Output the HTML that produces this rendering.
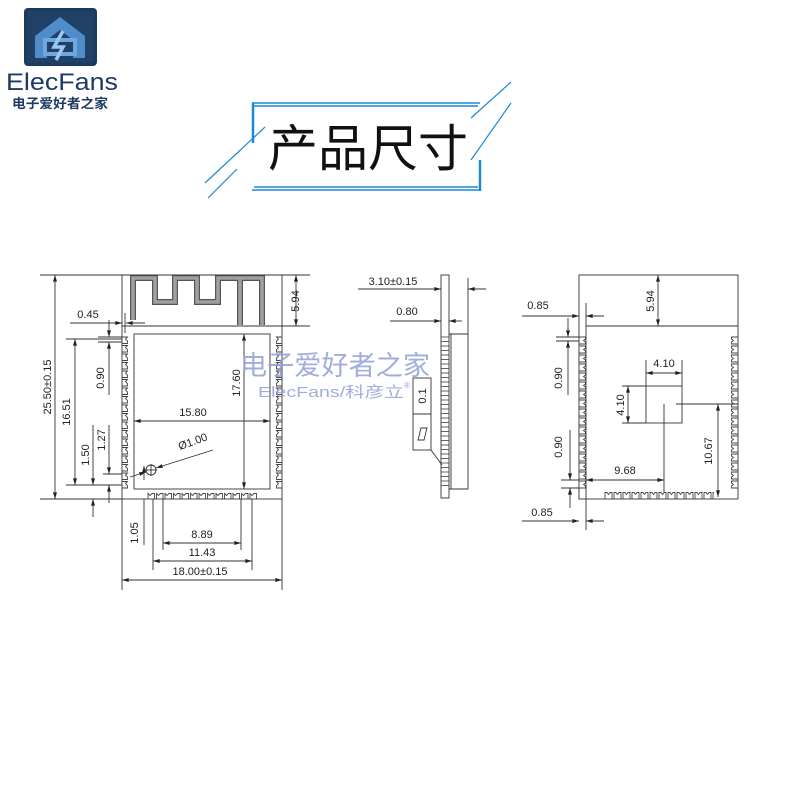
<!DOCTYPE html>
<html><head><meta charset="utf-8"><style>
html,body{margin:0;padding:0;background:#fff;width:800px;height:800px;overflow:hidden}
svg text{font-family:"Liberation Sans","Noto Sans CJK SC",sans-serif}
</style></head><body>
<svg width="800" height="800" viewBox="0 0 800 800" xmlns="http://www.w3.org/2000/svg">
<defs>
<pattern id="castL" x="122" y="336" width="7" height="8.5" patternUnits="userSpaceOnUse">
<path d="M0.5,1 h5 l-2,2 l2,2 l0,2.5 h-5" fill="none" stroke="#444" stroke-width="0.9"/>
</pattern>
<pattern id="castR" x="275" y="336" width="7" height="8.5" patternUnits="userSpaceOnUse">
<path d="M6.5,1 h-5 l2,2 l-2,2 l0,2.5 h5" fill="none" stroke="#444" stroke-width="0.9"/>
</pattern>
<pattern id="castB" x="147" y="492" width="8.5" height="7" patternUnits="userSpaceOnUse">
<path d="M1,6.5 v-5 l2,2 l2,-2 h2.5 v5" fill="none" stroke="#444" stroke-width="0.9"/>
</pattern>
<pattern id="castL2" x="579" y="336" width="7" height="9" patternUnits="userSpaceOnUse">
<path d="M0.5,1 h6 v2 l-2,1.5 l2,1.5 v2 h-6" fill="none" stroke="#444" stroke-width="0.9"/>
</pattern>
<pattern id="castR2" x="731" y="336" width="7" height="9" patternUnits="userSpaceOnUse">
<path d="M6.5,1 h-6 v2 l2,1.5 l-2,1.5 v2 h6" fill="none" stroke="#444" stroke-width="0.9"/>
</pattern>
<pattern id="castB2" x="604" y="491" width="9" height="8" patternUnits="userSpaceOnUse">
<path d="M1,7.5 v-6 h2 l1.5,2 l1.5,-2 h2 v6" fill="none" stroke="#444" stroke-width="0.9"/>
</pattern>
<marker id="a" viewBox="0 0 10 6" refX="10" refY="3" markerWidth="7" markerHeight="4" orient="auto-start-reverse" markerUnits="userSpaceOnUse">
<path d="M0,0 L10,3 L0,6z" fill="#222"/></marker>
</defs>

<!-- Logo -->
<rect x="24" y="8" width="73" height="58" rx="4" fill="#1d3a5c"/>
<rect x="27" y="11" width="67" height="52" rx="3" fill="#22466e" opacity="0.6"/>
<path d="M35,58 V36 L60,17 L85,36 V58 H73 V40 L60,30 L47,40 V58z" fill="#4f8cc9"/>
<rect x="45" y="40" width="30" height="14" fill="none" stroke="#6fa8dc" stroke-width="4"/>
<path d="M63,31 L54,47 H63 L56,60" fill="none" stroke="#9cc7ee" stroke-width="3.5"/>
<text x="6" y="90" font-size="24" fill="#1e3b66" textLength="112" lengthAdjust="spacingAndGlyphs">ElecFans</text>
<text x="12" y="108" font-size="13" font-weight="bold" fill="#1e3b66" textLength="96" lengthAdjust="spacingAndGlyphs">电子爱好者之家</text>

<!-- Title -->
<g stroke="#1a8ad4" fill="none">
<path d="M252,103 H480 M254,106 H478" stroke-width="1.6"/>
<path d="M253,103 V143" stroke-width="2.5"/>
<path d="M252,190 H481 M254,187 H478" stroke-width="1.6"/>
<path d="M480,160 V191" stroke-width="2.5"/>
<path d="M205,183 L265,127 M208,198 L237,169 M471,118 L511,82 M471,160 L511,103" stroke-width="1.2"/>
</g>
<text x="368" y="166" font-size="50" text-anchor="middle" fill="#111" font-family="Noto Sans CJK SC,sans-serif">产品尺寸</text>

<g stroke="#333" stroke-width="0.9" fill="none">
<!-- LEFT VIEW -->
<rect x="122" y="275" width="160" height="224"/>
<line x1="122" y1="326" x2="282" y2="326"/>
<path d="M133,320 V278 H155 V302 H175 V278 H197 V302 H218 V278 H262 V325 M240,278 V325" stroke="#555" stroke-width="6" stroke-linejoin="miter"/>
<path d="M133,320 V278 H155 V302 H175 V278 H197 V302 H218 V278 H262 V325 M240,278 V325" stroke="#a0a0a0" stroke-width="3.6" stroke-linejoin="miter"/>
<rect x="134" y="334" width="136" height="155"/>
<rect x="122" y="336" width="7" height="153" fill="url(#castL)" stroke="none"/>
<rect x="275" y="336" width="7" height="153" fill="url(#castR)" stroke="none"/>
<rect x="147" y="492" width="110" height="7" fill="url(#castB)" stroke="none"/>
<!-- dims left -->
<line x1="40" y1="275" x2="310" y2="275"/>
<line x1="40" y1="499" x2="122" y2="499"/>
<line x1="282" y1="326" x2="310" y2="326"/>
<line x1="55" y1="275" x2="55" y2="499" marker-start="url(#a)" marker-end="url(#a)"/>
<line x1="66" y1="339" x2="122" y2="339"/>
<line x1="66" y1="485" x2="122" y2="485"/>
<line x1="75" y1="339" x2="75" y2="485" marker-start="url(#a)" marker-end="url(#a)"/>
<line x1="93" y1="425" x2="93" y2="485" marker-end="url(#a)"/>
<line x1="93" y1="499" x2="93" y2="517" marker-start="url(#a)"/>
<line x1="103" y1="474" x2="122" y2="474"/>
<line x1="109" y1="425" x2="109" y2="474" marker-end="url(#a)"/>
<line x1="109" y1="485" x2="109" y2="503" marker-start="url(#a)"/>
<line x1="98" y1="337" x2="122" y2="337"/>
<line x1="98" y1="342" x2="122" y2="342"/>
<line x1="109" y1="320" x2="109" y2="337" marker-end="url(#a)"/>
<line x1="109" y1="342" x2="109" y2="395" marker-start="url(#a)"/>
<line x1="70" y1="323" x2="122" y2="323" marker-end="url(#a)"/>
<line x1="126" y1="323" x2="145" y2="323" marker-start="url(#a)"/>
<line x1="125" y1="313" x2="125" y2="333"/>
<line x1="296" y1="275" x2="296" y2="326" marker-start="url(#a)" marker-end="url(#a)"/>
<line x1="134" y1="421" x2="270" y2="421" marker-start="url(#a)" marker-end="url(#a)"/>
<line x1="244" y1="334" x2="244" y2="489" marker-start="url(#a)" marker-end="url(#a)"/>
<circle cx="151" cy="470" r="5"/>
<line x1="145" y1="470" x2="157" y2="470"/><line x1="151" y1="464" x2="151" y2="476"/>
<line x1="130" y1="477" x2="146" y2="472" marker-end="url(#a)"/>
<line x1="213" y1="450" x2="156" y2="468" marker-end="url(#a)"/>
<line x1="144" y1="480" x2="144" y2="466" marker-end="url(#a)"/>
<line x1="144" y1="499" x2="144" y2="545"/>
<line x1="163" y1="499" x2="163" y2="550"/><line x1="241" y1="499" x2="241" y2="550"/>
<line x1="153" y1="499" x2="153" y2="570"/><line x1="252" y1="499" x2="252" y2="570"/>
<line x1="122" y1="499" x2="122" y2="590"/><line x1="282" y1="499" x2="282" y2="590"/>
<line x1="163" y1="543" x2="241" y2="543" marker-start="url(#a)" marker-end="url(#a)"/>
<line x1="153" y1="561" x2="252" y2="561" marker-start="url(#a)" marker-end="url(#a)"/>
<line x1="122" y1="580" x2="282" y2="580" marker-start="url(#a)" marker-end="url(#a)"/>

<!-- SIDE VIEW -->
<rect x="441" y="275" width="8" height="223"/>
<path d="M449,334 H468 V489 H449 M451,334 V489"/>
<path d="M441,337 H449 M441,341.5 H449 M441,346 H449 M441,350.5 H449 M441,355 H449 M441,359.5 H449 M441,364 H449 M441,368.5 H449 M441,373 H449 M441,377.5 H449 M441,382 H449 M441,386.5 H449 M441,391 H449 M441,395.5 H449 M441,400 H449 M441,404.5 H449 M441,409 H449 M441,413.5 H449 M441,418 H449 M441,422.5 H449 M441,427 H449 M441,431.5 H449 M441,436 H449 M441,440.5 H449 M441,445 H449 M441,449.5 H449 M441,454 H449 M441,458.5 H449 M441,463 H449 M441,467.5 H449 M441,472 H449 M441,476.5 H449 M441,481 H449 M441,485.5 H449" stroke-width="0.7"/>
<line x1="468" y1="278" x2="468" y2="334"/>
<line x1="358" y1="289" x2="441" y2="289" marker-end="url(#a)"/>
<line x1="468" y1="289" x2="486" y2="289" marker-start="url(#a)"/>
<line x1="390" y1="321" x2="441" y2="321" marker-end="url(#a)"/>
<line x1="449" y1="321" x2="462" y2="321" marker-start="url(#a)"/>
<rect x="413" y="378" width="18" height="36"/>
<rect x="413" y="414" width="18" height="36"/>
<path d="M418,440 L421,428 L427,428 L424,440z"/>
<line x1="431" y1="450" x2="442" y2="465"/>

<!-- RIGHT VIEW -->
<rect x="579" y="275" width="159" height="224"/>
<line x1="586" y1="326" x2="738" y2="326"/>
<rect x="579" y="336" width="7" height="153" fill="url(#castL2)" stroke="none"/>
<rect x="731" y="336" width="7" height="153" fill="url(#castR2)" stroke="none"/>
<rect x="604" y="491" width="110" height="8" fill="url(#castB2)" stroke="none"/>
<line x1="586" y1="303" x2="586" y2="530"/>
<line x1="658" y1="275" x2="658" y2="326" marker-start="url(#a)" marker-end="url(#a)"/>
<line x1="522" y1="316" x2="579" y2="316" marker-end="url(#a)"/>
<line x1="586" y1="316" x2="604" y2="316" marker-start="url(#a)"/>
<line x1="522" y1="521" x2="579" y2="521" marker-end="url(#a)"/>
<line x1="586" y1="521" x2="604" y2="521" marker-start="url(#a)"/>
<line x1="556" y1="337" x2="579" y2="337"/><line x1="556" y1="341" x2="579" y2="341"/>
<line x1="568" y1="318" x2="568" y2="337" marker-end="url(#a)"/>
<line x1="568" y1="341" x2="568" y2="395" marker-start="url(#a)"/>
<line x1="561" y1="480" x2="579" y2="480"/><line x1="561" y1="488" x2="579" y2="488"/>
<line x1="570" y1="430" x2="570" y2="480" marker-end="url(#a)"/>
<line x1="570" y1="488" x2="570" y2="508" marker-start="url(#a)"/>
<rect x="646" y="386" width="36" height="37"/>
<line x1="646" y1="360" x2="646" y2="386"/><line x1="682" y1="360" x2="682" y2="386"/>
<line x1="646" y1="373" x2="682" y2="373" marker-start="url(#a)" marker-end="url(#a)"/>
<line x1="622" y1="386" x2="646" y2="386"/><line x1="622" y1="423" x2="646" y2="423"/>
<line x1="628" y1="386" x2="628" y2="423" marker-start="url(#a)" marker-end="url(#a)"/>
<line x1="664" y1="404" x2="664" y2="492"/>
<line x1="586" y1="480" x2="664" y2="480" marker-start="url(#a)" marker-end="url(#a)"/>
<line x1="676" y1="404" x2="738" y2="404"/>
<line x1="718" y1="404" x2="718" y2="497" marker-start="url(#a)" marker-end="url(#a)"/>
</g>

<g font-size="11" fill="#222">
<text x="88" y="318" text-anchor="middle">0.45</text>
<text transform="translate(51,387) rotate(-90)" text-anchor="middle">25.50±0.15</text>
<text transform="translate(70,412) rotate(-90)" text-anchor="middle">16.51</text>
<text transform="translate(89,455) rotate(-90)" text-anchor="middle">1.50</text>
<text transform="translate(105,440) rotate(-90)" text-anchor="middle">1.27</text>
<text transform="translate(104,378) rotate(-90)" text-anchor="middle">0.90</text>
<text transform="translate(299,301) rotate(-90)" text-anchor="middle">5.94</text>
<text transform="translate(240,383) rotate(-90)" text-anchor="middle">17.60</text>
<text x="193" y="416" text-anchor="middle">15.80</text>
<text transform="translate(194,445) rotate(-20)" text-anchor="middle">Ø1.00</text>
<text transform="translate(138,533) rotate(-90)" text-anchor="middle">1.05</text>
<text x="202" y="538" text-anchor="middle">8.89</text>
<text x="202" y="556" text-anchor="middle">11.43</text>
<text x="200" y="575" text-anchor="middle">18.00±0.15</text>
<text x="393" y="285" text-anchor="middle">3.10±0.15</text>
<text x="407" y="315" text-anchor="middle">0.80</text>
<text transform="translate(426,396) rotate(-90)" text-anchor="middle">0.1</text>
<text x="538" y="309" text-anchor="middle">0.85</text>
<text x="542" y="516" text-anchor="middle">0.85</text>
<text transform="translate(562,378) rotate(-90)" text-anchor="middle">0.90</text>
<text transform="translate(562,447) rotate(-90)" text-anchor="middle">0.90</text>
<text transform="translate(654,301) rotate(-90)" text-anchor="middle">5.94</text>
<text x="664" y="367" text-anchor="middle">4.10</text>
<text transform="translate(624,405) rotate(-90)" text-anchor="middle">4.10</text>
<text x="625" y="474" text-anchor="middle">9.68</text>
<text transform="translate(712,451) rotate(-90)" text-anchor="middle">10.67</text>
</g>

<!-- watermark -->
<text x="240" y="375" font-size="27" fill="#8f9fd6" fill-opacity="0.85" textLength="190" lengthAdjust="spacingAndGlyphs">电子爱好者之家</text>
<text x="258" y="397" font-size="15" fill="#8f9fd6" fill-opacity="0.85" textLength="146" lengthAdjust="spacingAndGlyphs">ElecFans/科彦立</text>
<text x="404" y="388" font-size="8" fill="#8f9fd6">®</text>
</svg>
</body></html>
